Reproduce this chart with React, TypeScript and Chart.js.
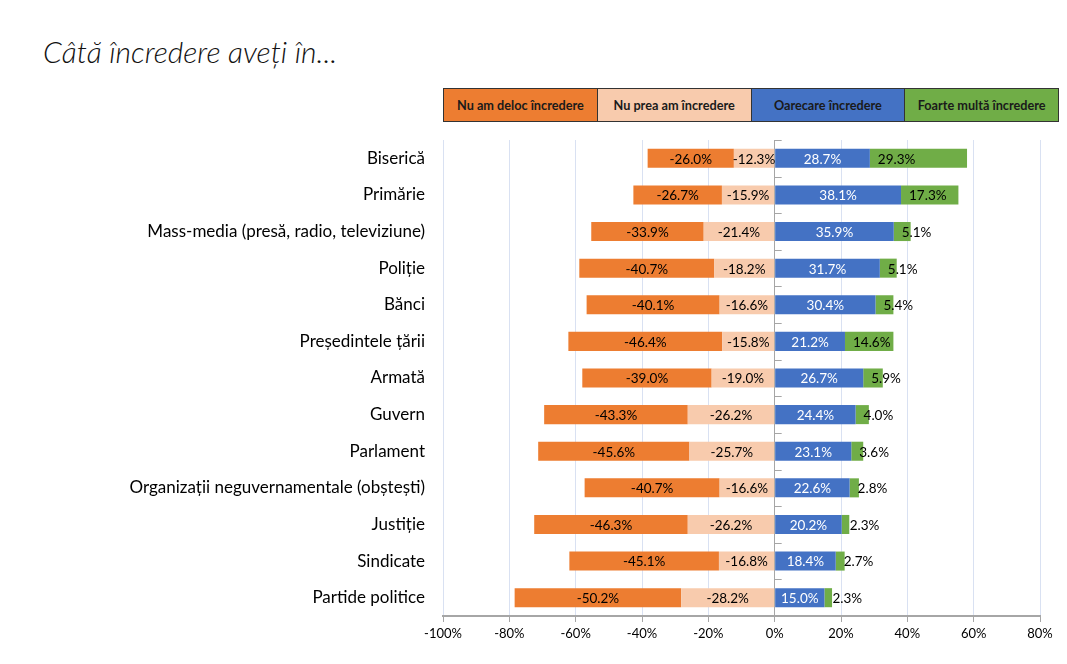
import React, { useEffect, useRef } from "react";
import { Chart, registerables } from "chart.js";

Chart.register(...registerables);

const categories = [
  "Biserică",
  "Primărie",
  "Mass-media (presă, radio, televiziune)",
  "Poliție",
  "Bănci",
  "Președintele țării",
  "Armată",
  "Guvern",
  "Parlament",
  "Organizații neguvernamentale (obștești)",
  "Justiție",
  "Sindicate",
  "Partide politice",
];

const nuDeloc = [-26.0, -26.7, -33.9, -40.7, -40.1, -46.4, -39.0, -43.3, -45.6, -40.7, -46.3, -45.1, -50.2];
const nuPrea = [-12.3, -15.9, -21.4, -18.2, -16.6, -15.8, -19.0, -26.2, -25.7, -16.6, -26.2, -16.8, -28.2];
const oarecare = [28.7, 38.1, 35.9, 31.7, 30.4, 21.2, 26.7, 24.4, 23.1, 22.6, 20.2, 18.4, 15.0];
const foarte = [29.3, 17.3, 5.1, 5.1, 5.4, 14.6, 5.9, 4.0, 3.6, 2.8, 2.3, 2.7, 2.3];

const legendItems = [
  { label: "Nu am deloc încredere", color: "#ED7D31" },
  { label: "Nu prea am încredere", color: "#F8CBAD" },
  { label: "Oarecare încredere", color: "#4472C4" },
  { label: "Foarte multă încredere", color: "#70AD47" },
];

const FONT = "Lato, 'Open Sans', sans-serif";

const labelPlugin = {
  id: "segLabels",
  afterDatasetsDraw(chart: any) {
    const ctx = chart.ctx;
    ctx.save();
    ctx.font = `13.5px ${FONT}`;
    ctx.textBaseline = "middle";
    chart.data.datasets.forEach((ds: any, di: number) => {
      const meta = chart.getDatasetMeta(di);
      meta.data.forEach((el: any, i: number) => {
        const v = ds.data[i];
        const txt = v.toFixed(1) + "%";
        const start = Math.min(el.x, el.base);
        const end = Math.max(el.x, el.base);
        ctx.fillStyle = ds.labelColor;
        if (ds.labelMode === "start") {
          ctx.textAlign = "left";
          ctx.fillText(txt, start + 8, el.y + 1);
        } else {
          ctx.textAlign = "center";
          ctx.fillText(txt, (start + end) / 2, el.y + 1);
        }
      });
    });
    ctx.restore();
  },
};

const zeroTicksPlugin = {
  id: "zeroTicks",
  afterDraw(chart: any) {
    const ctx = chart.ctx;
    const xs = chart.scales.x;
    const area = chart.chartArea;
    const x0 = xs.getPixelForValue(0);
    const n = categories.length;
    const h = (area.bottom - area.top) / n;
    ctx.save();
    ctx.strokeStyle = "#a6a6a6";
    ctx.lineWidth = 1;
    ctx.beginPath();
    for (let i = 0; i < n; i++) {
      const y = Math.round(area.top + i * h) + 0.5;
      ctx.moveTo(x0, y);
      ctx.lineTo(x0 + 7, y);
    }
    ctx.stroke();
    ctx.restore();
  },
};

export default function App() {
  const ref = useRef<HTMLCanvasElement>(null);

  useEffect(() => {
    document.body.style.margin = "0";
    const chart = new Chart(ref.current as HTMLCanvasElement, {
      type: "bar",
      data: {
        labels: categories,
        datasets: [
          { label: "Nu prea am încredere", data: nuPrea, backgroundColor: "#F8CBAD", labelColor: "#000", labelMode: "center" } as any,
          { label: "Nu am deloc încredere", data: nuDeloc, backgroundColor: "#ED7D31", labelColor: "#000", labelMode: "center" } as any,
          { label: "Oarecare încredere", data: oarecare, backgroundColor: "#4472C4", labelColor: "#fff", labelMode: "center" } as any,
          { label: "Foarte multă încredere", data: foarte, backgroundColor: "#70AD47", labelColor: "#000", labelMode: "start" } as any,
        ],
      },
      options: {
        indexAxis: "y",
        responsive: false,
        animation: false,
        layout: { padding: { top: 140, right: 27, bottom: 0, left: 0 } },
        datasets: { bar: { barPercentage: 0.52, categoryPercentage: 1, borderWidth: 0 } },
        plugins: { legend: { display: false }, tooltip: { enabled: false }, title: { display: false } },
        scales: {
          x: {
            stacked: true,
            min: -100,
            max: 80,
            ticks: {
              stepSize: 20,
              callback: (v: any) => v + "%",
              color: "#000",
              font: { family: FONT, size: 13 },
              padding: 4,
            },
            grid: {
              color: (c: any) => (c.tick && c.tick.value === 0 ? "#a6a6a6" : "#D9E1F2"),
              tickColor: "#a6a6a6",
              tickLength: 6,
              lineWidth: 1,
            },
            border: { color: "#a6a6a6", width: 2 },
            afterFit: (s: any) => {
              s.height = 48;
            },
          },
          y: {
            stacked: true,
            grid: { display: false, drawTicks: false },
            border: { display: false },
            ticks: {
              color: "#000",
              font: { family: FONT, size: 17 },
              padding: 18,
            },
            afterFit: (s: any) => {
              s.width = 443;
            },
          },
        },
      } as any,
      plugins: [labelPlugin, zeroTicksPlugin],
    });
    return () => chart.destroy();
  }, []);

  return (
    <div style={{ position: "relative", width: 1067, height: 664, background: "#fff" }}>
      <div
        style={{
          position: "absolute",
          left: 43,
          top: 33,
          fontFamily: FONT,
          fontStyle: "italic",
          fontWeight: 300,
          fontSize: 30,
          lineHeight: "36px",
          color: "#111",
          whiteSpace: "nowrap",
        }}
      >
        Câtă încredere aveți în...
      </div>
      <div
        style={{
          position: "absolute",
          left: 443,
          top: 88,
          width: 616,
          height: 34,
          display: "flex",
          border: "1px solid #333",
          boxSizing: "border-box",
        }}
      >
        {legendItems.map((it, i) => (
          <div
            key={it.label}
            style={{
              flex: 1,
              background: it.color,
              borderRight: i < legendItems.length - 1 ? "1px solid #333" : "none",
              display: "flex",
              alignItems: "center",
              justifyContent: "center",
              fontFamily: FONT,
              fontWeight: 700,
              fontSize: 12.7,
              color: "#1a1a1a",
              whiteSpace: "nowrap",
            }}
          >
            {it.label}
          </div>
        ))}
      </div>
      <canvas ref={ref} width={1067} height={664} style={{ position: "absolute", left: 0, top: 0 }} />
    </div>
  );
}
